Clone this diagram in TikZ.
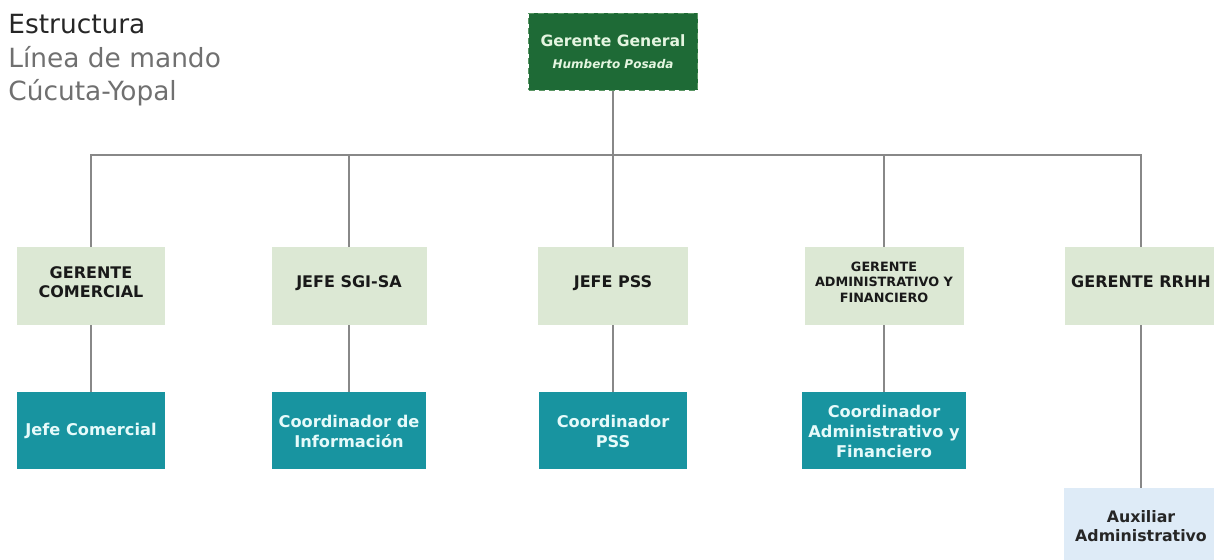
\documentclass[tikz,border=0pt]{standalone}
\usepackage{fontspec}
\setmainfont{DejaVu Sans}
\usetikzlibrary{positioning}

\definecolor{verdeoscuro}{RGB}{30,106,54}
\definecolor{verdeborde}{RGB}{90,150,100}
\definecolor{verdetexto}{RGB}{228,245,224}
\definecolor{verdeclaro}{RGB}{220,232,212}
\definecolor{azulverde}{RGB}{24,148,160}
\definecolor{textoclaro}{RGB}{230,250,250}
\definecolor{azulclaro}{RGB}{222,235,247}
\definecolor{gris}{RGB}{136,136,136}
\definecolor{titulo}{RGB}{112,112,112}

\begin{document}
\begin{tikzpicture}[x=0.5pt,y=-0.5pt,node distance=72.5pt,
  gerente/.style={rectangle,fill=verdeoscuro,draw=verdeborde,densely dashed,line width=0.6pt,minimum width=84.5pt,minimum height=38.5pt,text=verdetexto,align=center},
  jefe/.style={rectangle,fill=verdeclaro,minimum height=39pt,text=black!90,font=\bfseries\fontsize{8}{9.6}\selectfont,align=center,
    execute at end node={\rule[-4pt]{0pt}{0pt}}},
  coord/.style={rectangle,fill=azulverde,minimum height=38.5pt,text=textoclaro,font=\bfseries\fontsize{8.1}{10}\selectfont,align=center},
  auxiliar/.style={rectangle,fill=azulclaro,minimum width=77pt,minimum height=38pt,text=black!85,font=\bfseries\fontsize{7.9}{9.8}\selectfont,align=center},
  linea/.style={draw=gris,line width=1pt}]
  \useasboundingbox (0,0) rectangle (1214,560);
  \clip (0,0) rectangle (1214,560);

  % titulo
  \node[anchor=base west,inner sep=0pt,text=black!85,font=\fontsize{13.2}{16}\selectfont] (T1) at (8,34) {Estructura};
  \node[anchor=base west,inner sep=0pt,text=titulo,font=\fontsize{13.2}{16}\selectfont] (T2) at (8,68) {Línea de mando};
  \node[anchor=base west,inner sep=0pt,text=titulo,font=\fontsize{13.2}{16}\selectfont] (T3) at (8,101) {Cúcuta-Yopal};

  % gerencia
  \node[gerente] (A) at (613,52) {{\bfseries\fontsize{7.8}{9.4}\selectfont Gerente General}\\[-1pt]
    {\bfseries\itshape\fontsize{6}{7.5}\selectfont Humberto Posada}};

  % jefes
  \node[jefe,minimum width=74pt] (B) at (91,286) {GERENTE\\COMERCIAL};
  \node[jefe,minimum width=77.5pt] (C) at (349,286) {JEFE SGI-SA};
  \node[jefe,minimum width=75pt] (D) at (613,286) {JEFE PSS};
  \node[jefe,minimum width=79.5pt,font=\bfseries\fontsize{6.4}{7.8}\selectfont] (E) at (884,286) {GERENTE\\ADMINISTRATIVO Y\\FINANCIERO};
  \node[jefe,minimum width=75pt] (F) at (1141,286) {GERENTE RRHH};

  % coordinadores
  \node[coord,minimum width=74pt] (G) [below of=B] {Jefe Comercial};
  \node[coord,minimum width=72.5pt] (H) [below of=C] {Coordinador de\\Información};
  \node[coord,minimum width=74pt] (I) [below of=D] {Coordinador\\PSS};
  \node[coord,minimum width=79pt] (J) [below of=E] {Coordinador\\Administrativo y\\Financiero};
  \node[auxiliar] (K) [below of=F,node distance=120pt] {Auxiliar\\Administrativo};

  % lineas
  \coordinate (bus) at (0,155);
  \draw[linea] (A.south) -- (D.north);
  \draw[linea] (B.north) -- (B.north |- bus) -- (F.north |- bus) -- (F.north);
  \draw[linea] (C.north) -- (C.north |- bus);
  \draw[linea] (E.north) -- (E.north |- bus);
  \path[linea]
    (B) edge (G)
    (C) edge (H)
    (D) edge (I)
    (E) edge (J)
    (F) edge (K);
\end{tikzpicture}
\end{document}
